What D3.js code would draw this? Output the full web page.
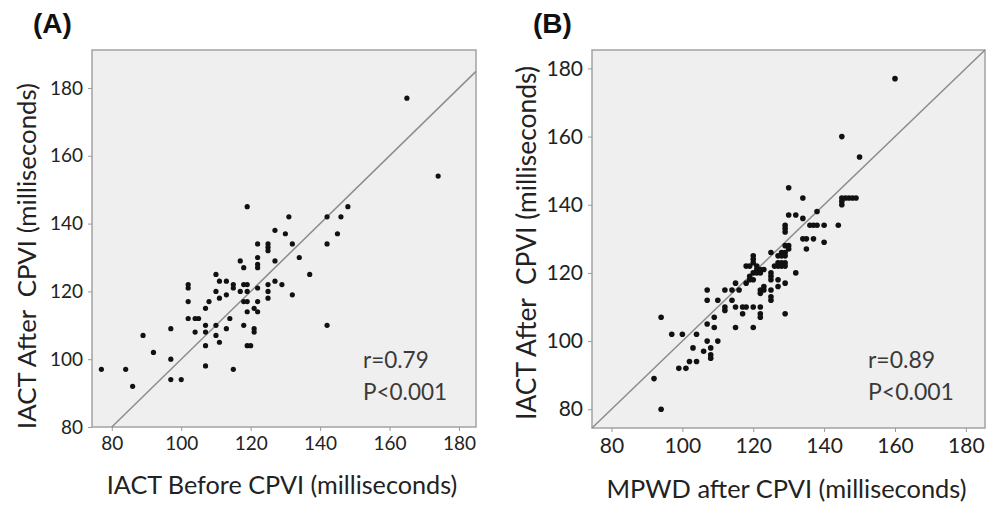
<!DOCTYPE html>
<html>
<head>
<meta charset="utf-8">
<script src="https://cdn.jsdelivr.net/npm/d3@7"></script>
<style>
  html, body { margin: 0; padding: 0; background: #ffffff; }
  svg { display: block; }
  text { font-family: Lato, "Open Sans", sans-serif; fill: #222; }
</style>
</head>
<body>
<svg id="chart" width="995" height="505"></svg>
<script>
// ---------- Data ----------
const panelLabels = ["(A)", "(B)"];
const xTitles = ["IACT Before CPVI (milliseconds)", "MPWD after CPVI (milliseconds)"];
const yTitles = ["IACT After  CPVI (milliseconds)", "IACT After  CPVI (milliseconds)"];
const tickValues = [80, 100, 120, 140, 160, 180];
const statR = ["r=0.79", "r=0.89"];
const statP = ["P<0.001", "P<0.001"];

// Panel A: [IACT before, IACT after]
const pointsA = [
  [165,177],[174,154],[119,145],[131,142],[142,142],[146,142],[148,145],[127,138],[130,137],[145,137],
  [142,134],[122,134],[125,134],[125,133],[125,132],[132,134],[134,130],[122,130],[122,128],[122,127],
  [117,129],[118,127],[127,129],[137,125],[110,125],[111,123],[113,123],[115,122],[115,121],[102,122],
  [102,121],[127,123],[129,122],[125,122],[125,120],[125,118],[118,122],[119,122],[117,120],[119,120],
  [122,121],[132,119],[110,120],[111,118],[113,119],[108,117],[107,115],[102,117],[118,117],[119,117],
  [122,117],[121,115],[119,114],[122,114],[102,112],[104,112],[105,112],[114,112],[97,109],[89,107],
  [107,110],[110,110],[104,108],[107,108],[110,107],[113,109],[118,110],[121,109],[121,108],[111,105],
  [107,104],[119,104],[120,104],[92,102],[97,100],[77,97],[84,97],[86,92],[97,94],[100,94],
  [107,98],[115,97],[142,110]
];

// Panel B: [MPWD after, IACT after]
const pointsB = [
  [160,177],[145,160],[150,154],[130,145],[134,142],[145,142],[145,141],[145,140],[146,142],[147,142],
  [148,142],[149,142],[138,138],[130,137],[132,137],[134,136],[136,134],[137,134],[138,134],[140,134],
  [144,134],[129,134],[129,133],[129,132],[134,130],[135,130],[137,130],[135,127],[140,129],[129,128],
  [130,128],[130,127],[128,126],[129,126],[125,126],[127,125],[128,125],[129,125],[127,123],[128,123],
  [129,123],[126,122],[127,122],[128,122],[129,122],[120,125],[120,124],[120,123],[118,122],[119,122],
  [121,122],[122,121],[121,121],[123,121],[120,120],[121,120],[122,120],[119,119],[120,118],[119,118],
  [125,120],[125,119],[125,118],[127,118],[127,116],[129,117],[132,120],[123,116],[115,117],[112,115],
  [116,115],[114,115],[107,115],[107,112],[110,112],[114,112],[122,115],[123,115],[122,114],[125,115],
  [125,113],[125,112],[112,110],[112,109],[115,110],[117,110],[118,110],[120,110],[122,110],[117,108],
  [122,108],[122,107],[129,108],[115,104],[120,104],[109,107],[109,104],[107,105],[110,100],[107,100],
  [108,98],[106,97],[108,96],[108,95],[94,107],[97,102],[100,102],[104,102],[103,98],[102,94],
  [104,94],[99,92],[101,92],[92,89],[94,80],[118,117]
];

// ---------- Layout ----------
const panels = [
  { data: pointsA, box: {x0: 92, x1: 476, y0: 50, y1: 427}, xd: [74.3, 184.9], yd: [80, 191.2],
    label: {x: 33, y: 33}, tickFont: 19, titleFont: 25.2, yTitleFont: 25.8, statFont: 22.5, dotR: 2.6,
    yTitleX: 36, yTitleY: 256, xTitleY: 494, stat: {x: 363, y1: 368, y2: 400} },
  { data: pointsB, box: {x0: 592, x1: 985, y0: 50, y1: 428}, xd: [74.5, 185.4], yd: [74.5, 185.4],
    label: {x: 533, y: 33}, tickFont: 21, titleFont: 25.4, yTitleFont: 26.4, statFont: 23, dotR: 2.8,
    yTitleX: 536, yTitleY: 243, xTitleY: 498, stat: {x: 868, y1: 368, y2: 400} }
];

const svg = d3.select("#chart");

panels.forEach((p, i) => {
  const g = svg.append("g");
  const x = d3.scaleLinear().domain(p.xd).range([p.box.x0, p.box.x1]);
  const y = d3.scaleLinear().domain(p.yd).range([p.box.y1, p.box.y0]);

  // panel letter
  svg.append("text").attr("x", p.label.x).attr("y", p.label.y)
    .style("font-family", "'Liberation Sans', Arial, sans-serif")
    .style("font-weight", "bold").style("font-size", "28px").style("fill", "#111")
    .text(panelLabels[i]);

  // background box
  g.append("rect")
    .attr("x", p.box.x0).attr("y", p.box.y0)
    .attr("width", p.box.x1 - p.box.x0).attr("height", p.box.y1 - p.box.y0)
    .attr("fill", "#efefef").attr("stroke", "#a3a3a3").attr("stroke-width", 1.5);

  // axes
  const xAxis = d3.axisBottom(x).tickValues(tickValues).tickSize(4).tickPadding(6);
  const yAxis = d3.axisLeft(y).tickValues(tickValues).tickSize(4).tickPadding(5);
  const gx = g.append("g").attr("transform", `translate(0,${p.box.y1})`).call(xAxis);
  const gy = g.append("g").attr("transform", `translate(${p.box.x0},0)`).call(yAxis);
  [gx, gy].forEach(a => {
    a.select(".domain").remove();
    a.selectAll(".tick line").attr("stroke", "#9a9a9a");
    a.selectAll(".tick text")
      .style("font-family", "Lato, 'Open Sans', sans-serif")
      .style("font-size", p.tickFont + "px").attr("fill", "#222");
  });

  // identity reference line
  const lo = Math.max(p.xd[0], p.yd[0]);
  const hi = Math.min(p.xd[1], p.yd[1]);
  g.append("line")
    .attr("x1", x(lo)).attr("y1", y(lo)).attr("x2", x(hi)).attr("y2", y(hi))
    .attr("stroke", "#8c8c8c").attr("stroke-width", 1.5);

  // points
  g.selectAll("circle.pt").data(p.data).enter().append("circle")
    .attr("class", "pt")
    .attr("cx", d => x(d[0])).attr("cy", d => y(d[1]))
    .attr("r", p.dotR).attr("fill", "#111");

  // statistics
  g.append("text").attr("x", p.stat.x).attr("y", p.stat.y1)
    .style("font-size", p.statFont + "px").style("fill", "#3a3a3a").text(statR[i]);
  g.append("text").attr("x", p.stat.x).attr("y", p.stat.y2)
    .style("font-size", p.statFont + "px").style("fill", "#3a3a3a").text(statP[i]);

  // axis titles
  g.append("text")
    .attr("x", (p.box.x0 + p.box.x1) / 2 - 2).attr("y", p.xTitleY)
    .attr("text-anchor", "middle")
    .style("font-size", p.titleFont + "px").style("fill", "#222")
    .text(xTitles[i]);
  g.append("text")
    .attr("transform", `translate(${p.yTitleX},${p.yTitleY}) rotate(-90)`)
    .attr("text-anchor", "middle")
    .style("font-size", p.yTitleFont + "px").style("fill", "#222")
    .style("white-space", "pre")
    .text(yTitles[i]);
});
</script>
</body>
</html>
